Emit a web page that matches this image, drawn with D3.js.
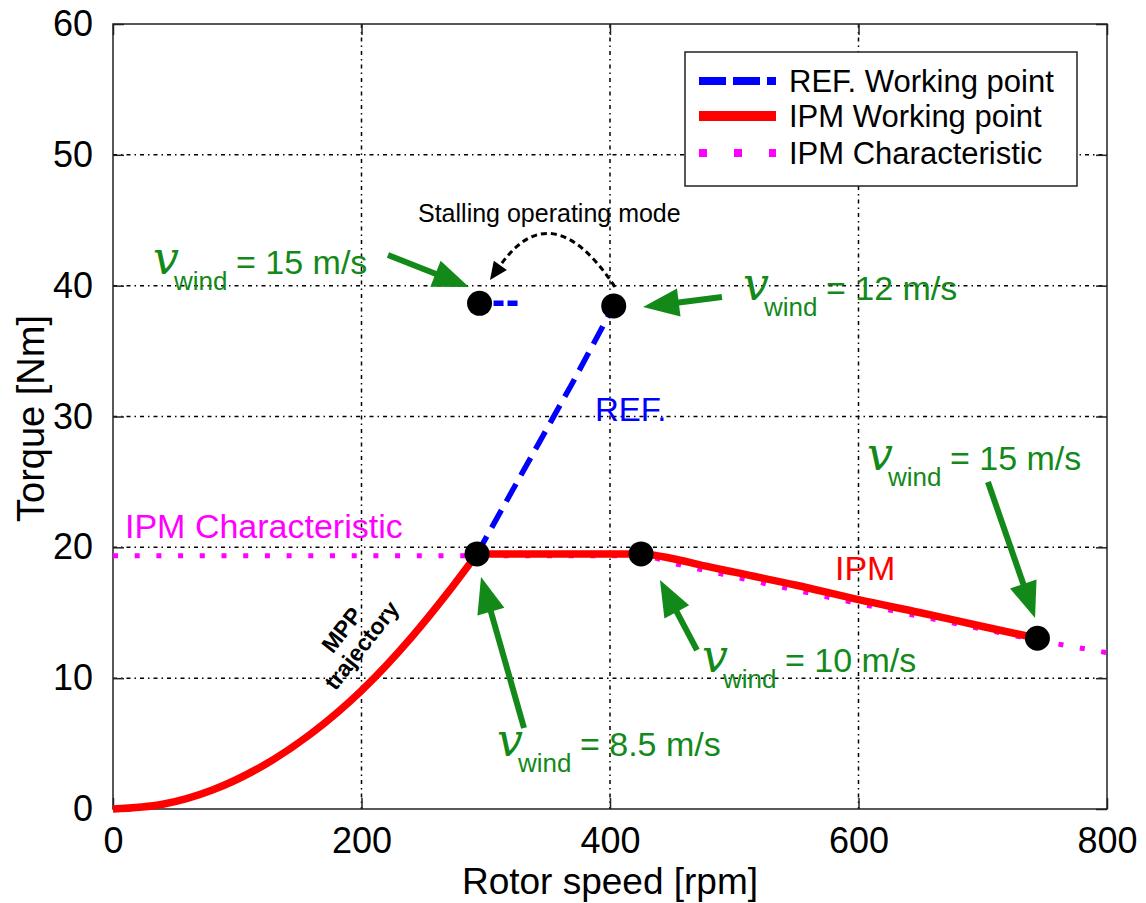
<!DOCTYPE html>
<html>
  <head>
    <meta charset="utf-8"/>
    <title>Torque vs rotor speed</title>
    <style type="text/css">
body {
  margin: 0;
  background: #fff;
}
svg {
  display: block;
  font-family: "Liberation Sans", Arial, sans-serif;
}
.grid line {
  stroke: #000;
  stroke-width: 1.5;
  stroke-dasharray: 4,4,1.5,4;
}
    </style>
  </head>
  <body>
    <div id="chart"></div>

    <script src="https://cdn.jsdelivr.net/npm/d3@7/dist/d3.min.js"></script>
    <script>
    // axis ticks
    const xTicks = [0, 200, 400, 600, 800];
    const yTicks = [0, 10, 20, 30, 40, 50, 60];

    // MPP trajectory (red, below rated speed)
    const mppSpeed  = [0, 40, 80, 120, 160, 200, 240, 270, 293];
    const mppTorque = [0, 0.36, 1.45, 3.27, 5.8, 9.05, 13.1, 16.6, 19.5];

    // IPM working point (red) above the MPP knee
    const ipmSpeed  = [293, 425, 450, 475, 500, 550, 600, 650, 700, 744];
    const ipmTorque = [19.5, 19.5, 19.15, 18.6, 18.1, 17.1, 16.0, 15.0, 13.95, 13.05];

    // IPM characteristic (magenta dotted)
    const charSpeed  = [0, 425, 450, 500, 600, 700, 744, 800];
    const charTorque = [19.35, 19.35, 18.8, 17.75, 15.7, 13.75, 12.9, 11.95];

    // REF. working point (blue dashed)
    const refSpeed  = [293, 330, 370, 403];
    const refTorque = [19.5, 25.8, 32.6, 38.45];
    const refStallSpeed  = [295, 326];
    const refStallTorque = [38.65, 38.65];

    // working points (black dots)
    const dotSpeed  = [293, 425, 744, 295, 403];
    const dotTorque = [19.5, 19.5, 13.05, 38.65, 38.45];

    // wind speed labels and their arrows (data units)
    const windText  = ["= 15 m/s", "= 12 m/s", "= 10 m/s", "= 8.5 m/s", "= 15 m/s"];
    const windAt    = [[32.2, 40.9], [507, 38.9], [474, 10.47], [309, 4.05], [606.8, 25.9]];
    const arrowTail = [[221.3, 42.34], [490.1, 39.13], [470.0, 12.15], [330.8, 6.19], [704.2, 24.99]];
    const arrowTip  = [[286.5, 39.9], [426.6, 38.37], [440.2, 17.5], [296.2, 17.73], [742.1, 14.6]];

    const legendNames = ["REF. Working point", "IPM Working point", "IPM Characteristic"];

    const W = 1146, H = 903;
    const green = "#13891a";

    const x = d3.scaleLinear().domain([0, 800]).range([113, 1107]);
    const y = d3.scaleLinear().domain([0, 60]).range([809, 24]);

    const svg = d3.select("#chart").append("svg")
        .attr("width", W)
        .attr("height", H);

    svg.append("rect").attr("width", W).attr("height", H).attr("fill", "#fff");

    // grid
    const grid = svg.append("g").attr("class", "grid");
    grid.selectAll(".gx")
        .data(xTicks.slice(1, -1))
        .enter().append("line")
        .attr("x1", d => x(d)).attr("x2", d => x(d))
        .attr("y1", y(60)).attr("y2", y(0));
    grid.selectAll(".gy")
        .data(yTicks.slice(1, -1))
        .enter().append("line")
        .attr("x1", x(0)).attr("x2", x(800))
        .attr("y1", d => y(d)).attr("y2", d => y(d));

    // axes, ticks inward on all four sides
    const tickLen = 11;
    const axes = [
      d3.axisBottom(x).tickValues(xTicks).tickSizeInner(-tickLen).tickSizeOuter(0).tickPadding(tickLen + 7),
      d3.axisTop(x).tickValues(xTicks).tickSizeInner(-tickLen).tickSizeOuter(0).tickFormat(""),
      d3.axisLeft(y).tickValues(yTicks).tickSizeInner(-tickLen).tickSizeOuter(0).tickPadding(tickLen + 9),
      d3.axisRight(y).tickValues(yTicks).tickSizeInner(-tickLen).tickSizeOuter(0).tickFormat("")
    ];
    const shifts = [[0, y(0)], [0, y(60)], [x(0), 0], [x(800), 0]];
    axes.forEach((ax, i) => {
      const g = svg.append("g")
          .attr("transform", "translate(" + shifts[i] + ")")
          .call(ax);
      g.select(".domain").remove();
      g.selectAll(".tick line").attr("stroke", "#222").attr("stroke-width", 1.5);
      g.selectAll("text")
          .attr("font-family", "Liberation Sans, Arial, sans-serif")
          .attr("font-size", 36)
          .attr("fill", "#000");
    });

    svg.append("rect")
        .attr("x", x(0)).attr("y", y(60))
        .attr("width", x(800) - x(0)).attr("height", y(0) - y(60))
        .attr("fill", "none").attr("stroke", "#222").attr("stroke-width", 1.5);

    svg.append("text")
        .attr("x", (x(0) + x(800)) / 2).attr("y", 894)
        .attr("text-anchor", "middle").attr("font-size", 37)
        .text("Rotor speed [rpm]");
    svg.append("text")
        .attr("transform", "translate(44," + ((y(0) + y(60)) / 2 + 2) + ") rotate(-90)")
        .attr("text-anchor", "middle").attr("font-size", 38)
        .text("Torque [Nm]");

    // series
    const line = d3.line()
        .x(d => x(d[0]))
        .y(d => y(d[1]))
        .curve(d3.curveMonotoneX);
    const zip = (a, b) => a.map((v, i) => [v, b[i]]);

    svg.append("path")
        .attr("d", line(zip(charSpeed, charTorque)))
        .attr("fill", "none").attr("stroke", "#ff00ff")
        .attr("stroke-width", 5).attr("stroke-dasharray", "5,16.7");

    svg.append("path")
        .attr("d", line(zip(mppSpeed, mppTorque)))
        .attr("fill", "none").attr("stroke", "#ff0000")
        .attr("stroke-width", 7.5).attr("stroke-linejoin", "round");
    svg.append("path")
        .attr("d", line(zip(ipmSpeed, ipmTorque)))
        .attr("fill", "none").attr("stroke", "#ff0000")
        .attr("stroke-width", 7.5).attr("stroke-linejoin", "round");

    const refLine = d3.line().x(d => x(d[0])).y(d => y(d[1]));
    svg.append("path")
        .attr("d", refLine(zip(refSpeed, refTorque)))
        .attr("fill", "none").attr("stroke", "#0000ff")
        .attr("stroke-width", 5.5).attr("stroke-dasharray", "20,10");
    svg.append("path")
        .attr("d", refLine(zip(refStallSpeed, refStallTorque)))
        .attr("fill", "none").attr("stroke", "#0000ff")
        .attr("stroke-width", 5.5).attr("stroke-dasharray", "10,4");

    svg.selectAll(".dot")
        .data(zip(dotSpeed, dotTorque))
        .enter().append("circle")
        .attr("cx", d => x(d[0])).attr("cy", d => y(d[1]))
        .attr("r", 12.5).attr("fill", "#000");

    // arrows
    function arrow(t0, t1, color, width, headLen, headHalf) {
      const ax = x(t0[0]), ay = y(t0[1]), bx = x(t1[0]), by = y(t1[1]);
      const len = Math.hypot(bx - ax, by - ay);
      const ux = (bx - ax) / len, uy = (by - ay) / len;
      const cx = bx - ux * headLen, cy = by - uy * headLen;
      svg.append("line")
          .attr("x1", ax).attr("y1", ay).attr("x2", cx + ux * 2).attr("y2", cy + uy * 2)
          .attr("stroke", color).attr("stroke-width", width);
      svg.append("polygon")
          .attr("points", [[bx, by], [cx - uy * headHalf, cy + ux * headHalf], [cx + uy * headHalf, cy - ux * headHalf]].join(" "))
          .attr("fill", color);
    }
    arrowTail.forEach((t, i) => arrow(t, arrowTip[i], green, 6, 36, 14));

    // wind labels
    windText.forEach((txt, i) => {
      const px = x(windAt[i][0]), py = y(windAt[i][1]);
      svg.append("text")
          .attr("x", px).attr("y", py)
          .attr("font-family", "DejaVu Serif, serif").attr("font-style", "italic")
          .attr("font-size", 46).attr("fill", green)
          .text("v");
      svg.append("text")
          .attr("x", px + 21).attr("y", py + 16)
          .attr("font-size", 26).attr("fill", green)
          .text("wind");
      svg.append("text")
          .attr("x", px + 83).attr("y", py)
          .attr("font-size", 34).attr("fill", green)
          .text(txt);
    });

    // stalling operating mode arc
    const s0 = [x(404), y(39.9)], sc = [x(353.3), y(47.16)], s1 = [x(303.4), y(40.43)];
    const hx = s1[0] - sc[0], hy = s1[1] - sc[1], hl = Math.hypot(hx, hy);
    const hux = hx / hl, huy = hy / hl;
    const hb = [s1[0] - hux * 18, s1[1] - huy * 18];
    svg.append("path")
        .attr("d", "M" + s0 + "Q" + sc + " " + hb)
        .attr("fill", "none").attr("stroke", "#000")
        .attr("stroke-width", 3).attr("stroke-dasharray", "6,4");
    svg.append("polygon")
        .attr("points", [s1, [hb[0] - huy * 8, hb[1] + hux * 8], [hb[0] + huy * 8, hb[1] - hux * 8]].join(" "))
        .attr("fill", "#000");
    svg.append("text")
        .attr("x", 418).attr("y", 222)
        .attr("font-size", 25).attr("fill", "#000")
        .text("Stalling operating mode");

    // in-plot labels
    svg.append("text").attr("x", 595).attr("y", 421)
        .attr("font-size", 33).attr("fill", "#0000ff").text("REF.");
    svg.append("text").attr("x", 125).attr("y", 538)
        .attr("font-size", 34).attr("fill", "#ff00ff").text("IPM Characteristic");
    svg.append("text").attr("x", 835).attr("y", 580)
        .attr("font-size", 34).attr("fill", "#ff0000").text("IPM");

    const mpp = svg.append("g")
        .attr("transform", "translate(352,638) rotate(-52)")
        .attr("font-size", 23).attr("font-weight", "bold")
        .attr("text-anchor", "middle");
    mpp.append("text").attr("y", -5).text("MPP");
    mpp.append("text").attr("y", 20).text("trajectory");

    // legend
    const legend = svg.append("g");
    legend.append("rect")
        .attr("x", 685).attr("y", 52).attr("width", 392).attr("height", 134)
        .attr("fill", "#fff").attr("stroke", "#222").attr("stroke-width", 1.5);
    const legendStyle = [
      {color: "#0000ff", width: 8, dash: "27,7"},
      {color: "#ff0000", width: 10, dash: null},
      {color: "#ff00ff", width: 8, dash: "8,27"}
    ];
    const rowY = [81, 116, 153];
    legendNames.forEach((name, i) => {
      legend.append("line")
          .attr("x1", 699).attr("x2", 776)
          .attr("y1", rowY[i]).attr("y2", rowY[i])
          .attr("stroke", legendStyle[i].color)
          .attr("stroke-width", legendStyle[i].width)
          .attr("stroke-dasharray", legendStyle[i].dash);
      legend.append("text")
          .attr("x", 789).attr("y", rowY[i]).attr("dy", "0.35em")
          .attr("font-size", 31).attr("fill", "#000")
          .text(name);
    });
    </script>
  </body>
</html>
